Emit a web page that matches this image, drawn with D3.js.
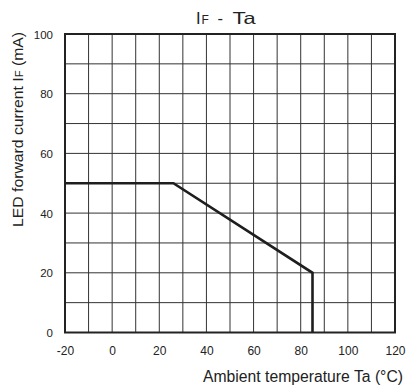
<!DOCTYPE html>
<html><head><meta charset="utf-8">
<script src="https://cdn.jsdelivr.net/npm/d3@7"></script>
<style>body{margin:0;background:#fff}svg{display:block;font-family:"Liberation Sans",Arial,sans-serif}</style>
</head><body>
<script>
const curveTemp = [-20, 26, 85, 85];
const curveCurrent = [50, 50, 20, 0];
const xTicks = [-20, 0, 20, 40, 60, 80, 100, 120];
const yTicks = [0, 20, 40, 60, 80, 100];
const xGrid = [-10, 0, 10, 20, 30, 40, 50, 60, 70, 80, 90, 100, 110];
const yGrid = [10, 20, 30, 40, 50, 60, 70, 80, 90];

const W = 406, H = 387;
const L = 65, R = 395, T = 34, B = 332.5;
const svg = d3.select("body").append("svg").attr("width", W).attr("height", H);
const x = d3.scaleLinear().domain([-20, 120]).range([L, R]);
const y = d3.scaleLinear().domain([0, 100]).range([B, T]);

const g = svg.append("g");
g.selectAll(".vg").data(xGrid).enter().append("line")
  .attr("x1", d => x(d)).attr("x2", d => x(d)).attr("y1", T).attr("y2", B)
  .attr("stroke", "#333").attr("stroke-width", 1);
g.selectAll(".hg").data(yGrid).enter().append("line")
  .attr("y1", d => y(d)).attr("y2", d => y(d)).attr("x1", L).attr("x2", R)
  .attr("stroke", "#333").attr("stroke-width", 1);

svg.append("rect").attr("x", L).attr("y", T).attr("width", R - L).attr("height", B - T)
  .attr("fill", "none").attr("stroke", "#222").attr("stroke-width", 2);

const pts = curveTemp.map((t, i) => [t, curveCurrent[i]]);
svg.append("path").datum(pts)
  .attr("d", d3.line().x(d => x(d[0])).y(d => y(d[1])))
  .attr("fill", "none").attr("stroke", "#1e1e1e").attr("stroke-width", 2.6)
  .attr("stroke-linejoin", "miter");

const fmt = d => String(d);
const xAxis = d3.axisBottom(x).tickValues(xTicks).tickFormat(fmt).tickSize(0).tickPadding(0);
const xa = svg.append("g").attr("transform", `translate(0,${B})`).call(xAxis);
xa.select(".domain").remove();
xa.selectAll("text").attr("font-size", 12).attr("font-family", "Liberation Sans, Arial, sans-serif")
  .attr("fill", "#222").attr("dy", 0).attr("y", 22);

const yAxis = d3.axisLeft(y).tickValues(yTicks).tickFormat(fmt).tickSize(0).tickPadding(0);
const ya = svg.append("g").attr("transform", `translate(${L},0)`).call(yAxis);
ya.select(".domain").remove();
ya.selectAll("text").attr("font-size", 11.5).attr("font-family", "Liberation Sans, Arial, sans-serif")
  .attr("fill", "#222").attr("x", -12).attr("dy", "0.35em");

const title = svg.append("text").attr("y", 24).attr("font-size", 16.5).attr("fill", "#222");
title.append("tspan").attr("x", 196).text("I");
title.append("tspan").attr("x", 201.5).attr("font-size", 12).text("F");
title.append("tspan").attr("x", 217.5).text("-");
title.append("tspan").attr("x", 232.5).attr("textLength", 23).attr("lengthAdjust", "spacingAndGlyphs").text("Ta");

svg.append("text").attr("x", 203).attr("y", 382).attr("text-anchor", "start")
  .attr("font-size", 16).attr("fill", "#222")
  .attr("textLength", 200).attr("lengthAdjust", "spacingAndGlyphs")
  .text("Ambient temperature Ta (°C)");

const yl = svg.append("text").attr("transform", "translate(22.5,227) rotate(-90)")
  .attr("x", 0).attr("y", 0).attr("text-anchor", "start").attr("font-size", 14).attr("fill", "#222")
  .attr("textLength", 195).attr("lengthAdjust", "spacingAndGlyphs");
yl.append("tspan").text("LED forward current I");
yl.append("tspan").attr("font-size", 10).text("F");
yl.append("tspan").text(" (mA)");
</script>
</body></html>
